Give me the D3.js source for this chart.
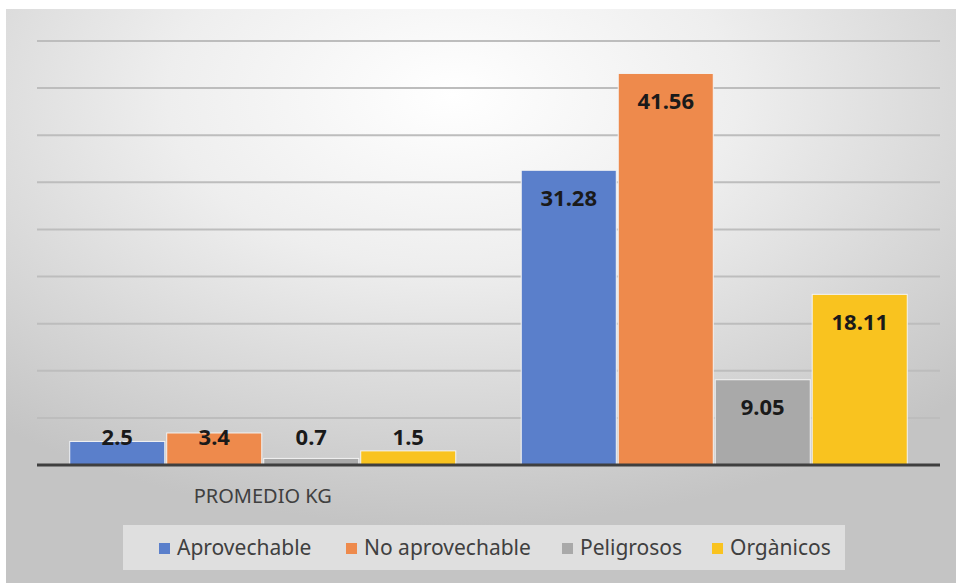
<!DOCTYPE html>
<html>
<head>
<meta charset="utf-8">
<script src="https://cdn.jsdelivr.net/npm/d3@7"></script>
<style>
  body { margin: 0; background: #ffffff; }
  svg { display: block; font-family: "Noto Sans", "Open Sans", sans-serif; }
</style>
</head>
<body>
<svg id="drawing_region"></svg>
<script>
// chart data
const groups = ["PROMEDIO KG", ""];
const series = ["Aprovechable", "No aprovechable", "Peligrosos", "Orgànicos"];
const colors = ["#5A7FCB", "#EE8A4C", "#A9A9A9", "#F9C31F"];
const aprovechable = [2.5, 31.28];
const noAprovechable = [3.4, 41.56];
const peligrosos = [0.7, 9.05];
const organicos = [1.5, 18.11];
const yTicks = [0, 5, 10, 15, 20, 25, 30, 35, 40, 45];

const values = [aprovechable, noAprovechable, peligrosos, organicos];

const width = 956, height = 583;
const margin = {top: 41, right: 16, bottom: 118, left: 37};

const svg = d3.select('#drawing_region')
    .attr('width', width)
    .attr('height', height);

// background gradient
const defs = svg.append('defs');
const grad = defs.append('radialGradient')
    .attr('id', 'bg')
    .attr('cx', '0.47').attr('cy', '0.15').attr('r', '0.75');
grad.append('stop').attr('offset', '0%').attr('stop-color', '#ffffff');
grad.append('stop').attr('offset', '40%').attr('stop-color', '#eeeeee');
grad.append('stop').attr('offset', '100%').attr('stop-color', '#c4c4c4');

svg.append('rect')
    .attr('x', 6).attr('y', 9)
    .attr('width', width - 6).attr('height', height - 9)
    .attr('fill', 'url(#bg)');

const inner_width = width - margin.left - margin.right;
const inner_height = height - margin.top - margin.bottom;

const chart = svg.append('g')
    .attr('transform', `translate(${margin.left}, ${margin.top})`);

const yscale = d3.scaleLinear()
    .domain([0, 45])
    .range([inner_height, 0]);

const x0 = d3.scaleBand()
    .domain(groups.map((g, i) => i))
    .range([0, inner_width])
    .paddingInner(0.145)
    .paddingOuter(0.0725);

const x1 = d3.scaleBand()
    .domain(series)
    .range([0, x0.bandwidth()])
    .paddingInner(0.02);

// gridlines
chart.append('g')
    .selectAll('line')
    .data(yTicks.slice(1))
    .join('line')
    .attr('x1', 0).attr('x2', inner_width)
    .attr('y1', d => yscale(d)).attr('y2', d => yscale(d))
    .attr('stroke', '#bdbdbd')
    .attr('stroke-width', 2);

// bars
const rows = [];
groups.forEach((g, gi) => {
    series.forEach((s, si) => rows.push({gi, s, si, v: values[si][gi]}));
});

chart.append('g')
    .selectAll('rect')
    .data(rows)
    .join('rect')
    .attr('x', d => x0(d.gi) + x1(d.s))
    .attr('y', d => yscale(d.v))
    .attr('width', x1.bandwidth())
    .attr('height', d => yscale(0) - yscale(d.v))
    .attr('fill', d => colors[d.si])
    .attr('stroke', '#f4f4f4')
    .attr('stroke-width', 1);

// baseline
chart.append('line')
    .attr('x1', 0).attr('x2', inner_width)
    .attr('y1', yscale(0)).attr('y2', yscale(0))
    .attr('stroke', '#3f3f3f')
    .attr('stroke-width', 3);

// data labels
chart.append('g')
    .selectAll('text')
    .data(rows)
    .join('text')
    .attr('x', d => x0(d.gi) + x1(d.s) + x1.bandwidth() / 2)
    .attr('y', d => Math.min(yscale(d.v) + 28, yscale(0) - 28))
    .attr('dy', '0.35em')
    .attr('text-anchor', 'middle')
    .attr('font-size', 22)
    .attr('font-weight', 'bold')
    .attr('fill', '#1a1a1a')
    .text(d => d.v);

// category labels
chart.append('g')
    .selectAll('text')
    .data(groups)
    .join('text')
    .attr('x', (d, i) => x0(i) + x0.bandwidth() / 2)
    .attr('y', inner_height + 31)
    .attr('dy', '0.35em')
    .attr('text-anchor', 'middle')
    .attr('font-size', 20)
    .attr('fill', '#404040')
    .text(d => d);

// legend
const legend = svg.append('g');
legend.append('rect')
    .attr('x', 123).attr('y', 525)
    .attr('width', 722).attr('height', 45)
    .attr('fill', '#e6e6e6')
    .attr('opacity', 0.8);

const legendX = [159, 346, 562, 712];
const items = legend.selectAll('g.item')
    .data(series)
    .join('g')
    .attr('class', 'item')
    .attr('transform', (d, i) => `translate(${legendX[i]}, 548)`);

items.append('rect')
    .attr('x', 0).attr('y', -5)
    .attr('width', 11).attr('height', 11)
    .attr('fill', (d, i) => colors[i]);

items.append('text')
    .attr('x', 18)
    .attr('dy', '0.35em')
    .attr('font-size', 21)
    .attr('fill', '#404040')
    .text(d => d);
</script>
</body>
</html>
